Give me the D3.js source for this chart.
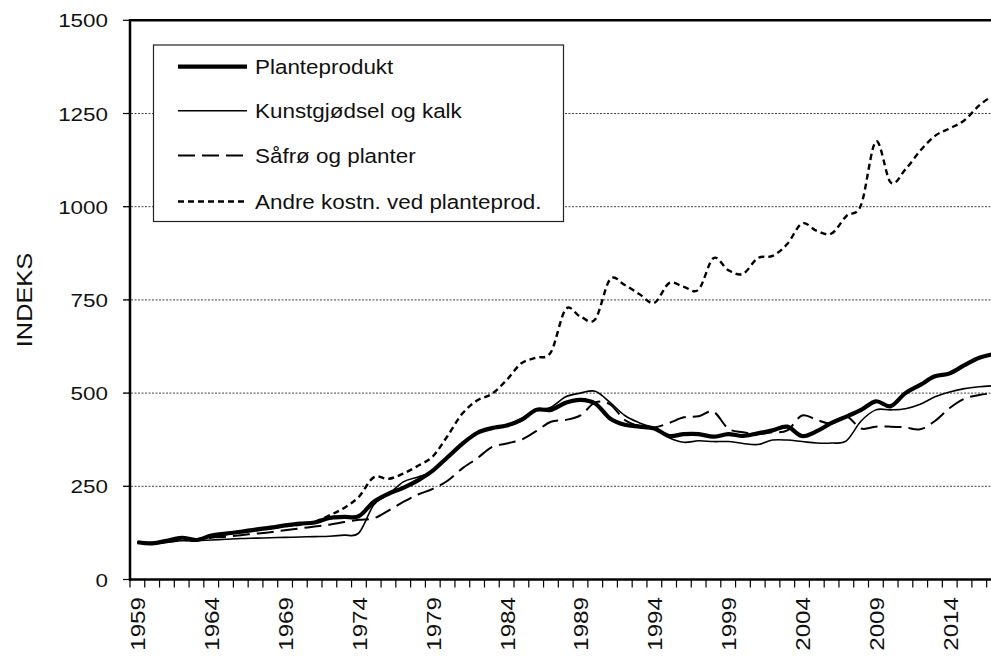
<!DOCTYPE html>
<html><head><meta charset="utf-8">
<script src="https://cdn.jsdelivr.net/npm/d3@7"></script>
<style>
body{margin:0;background:#fff}
text{font-family:"Liberation Sans",Arial,sans-serif;fill:#111}
</style>
</head><body><svg id="c" width="991" height="657"></svg>
<script>
const years = [1959,1960,1961,1962,1963,1964,1965,1966,1967,1968,1969,1970,1971,1972,1973,1974,1975,1976,1977,1978,1979,1980,1981,1982,1983,1984,1985,1986,1987,1988,1989,1990,1991,1992,1993,1994,1995,1996,1997,1998,1999,2000,2001,2002,2003,2004,2005,2006,2007,2008,2009,2010,2011,2012,2013,2014,2015,2016,2017];
const planteprodukt = [100,97,104,112,106,118,123,128,134,139,145,150,153,165,168,170,208,230,246,266,292,328,364,393,406,413,428,455,455,474,482,472,432,415,410,405,385,390,390,383,390,385,392,400,410,385,398,420,437,455,478,465,500,522,545,553,575,595,605];
const kunstgjodsel = [100,96,100,104,104,106,108,110,111,112,113,114,115,116,119,125,200,228,262,275,290,330,365,395,408,415,432,455,462,490,500,505,475,440,420,405,380,368,372,370,370,365,362,374,374,370,366,366,372,425,455,455,458,470,490,503,512,517,520];
const safro = [100,97,100,105,106,112,115,119,123,127,132,137,142,147,154,160,164,185,208,228,243,265,298,325,355,365,375,398,423,428,440,475,470,428,412,408,420,435,438,450,405,395,390,395,400,440,428,418,437,405,410,410,408,403,425,460,485,495,500];
const andre = [100,98,104,112,107,118,122,127,132,137,143,147,155,172,192,222,274,270,284,305,330,385,445,480,498,535,580,595,610,725,705,698,805,790,765,742,795,785,778,862,830,820,862,868,900,955,935,928,975,1005,1175,1065,1100,1150,1190,1210,1232,1272,1300];
const yTicks = [0,250,500,750,1000,1250,1500];
const xLabels = [1959,1964,1969,1974,1979,1984,1989,1994,1999,2004,2009,2014];
const seriesNames = ["Planteprodukt","Kunstgjødsel og kalk","Såfrø og planter","Andre kostn. ved planteprod."];

const svg = d3.select("#c");
const L = 130, T = 20.3, B = 579.5, step = 14.77;
const x = d3.scaleBand().domain(years).range([L, L + step*years.length]).paddingInner(0).paddingOuter(0);
const y = d3.scaleLinear().domain([0,1500]).range([B, T]);
const cx = d => x(d) + x.bandwidth()/2;
const SX = 1.18;

// gridlines
svg.append("g").selectAll("line").data(yTicks.filter(v => v>0 && v<1500)).join("line")
  .attr("x1", L-6).attr("x2", 991).attr("y1", d=>y(d)).attr("y2", d=>y(d))
  .attr("stroke","#444").attr("stroke-width",1).attr("stroke-dasharray","2,1.5");

// top border
svg.append("line").attr("x1",L).attr("x2",991).attr("y1",T).attr("y2",T).attr("stroke","#000").attr("stroke-width",2.5);

// lines
const line = d3.line().x((d,i)=>cx(years[i])).y(d=>y(d)).curve(d3.curveCardinal.tension(0));
const styles = [
  {data: andre, w: 2.4, dash: "6,4"},
  {data: safro, w: 2, dash: "17,7"},
  {data: kunstgjodsel, w: 1.6, dash: null},
  {data: planteprodukt, w: 4.2, dash: null}
];
styles.forEach(s => {
  svg.append("path").attr("d", line(s.data)).attr("fill","none").attr("stroke","#000")
    .attr("stroke-width", s.w).attr("stroke-dasharray", s.dash).attr("stroke-linejoin","round");
});

// y axis
const yAxis = svg.append("g");
yAxis.append("line").attr("x1",L).attr("x2",L).attr("y1",T-1.2).attr("y2",B+1.2).attr("stroke","#000").attr("stroke-width",2.5);
yAxis.selectAll("line.t").data(yTicks).join("line").attr("class","t")
  .attr("x1",L-7).attr("x2",L).attr("y1",d=>y(d)).attr("y2",d=>y(d)).attr("stroke","#000").attr("stroke-width",1.2);
yAxis.selectAll("text").data(yTicks).join("text")
  .attr("transform", d=>`translate(108,${y(d)}) scale(${SX},1)`)
  .attr("text-anchor","end").attr("dy","0.37em").style("font-size","19px").text(d=>d);

// x axis
const xAxis = svg.append("g");
xAxis.append("line").attr("x1",L-1).attr("x2",991).attr("y1",B).attr("y2",B).attr("stroke","#000").attr("stroke-width",2.5);
xAxis.selectAll("line.t").data(years).join("line").attr("class","t")
  .attr("x1",d=>x(d)).attr("x2",d=>x(d)).attr("y1",B).attr("y2",B+8).attr("stroke","#000").attr("stroke-width",1.2);
xAxis.selectAll("text").data(xLabels).join("text")
  .attr("transform", d=>`translate(${cx(d)+0.5},597) rotate(-90) scale(${SX},1)`)
  .attr("text-anchor","end").attr("dy","0.36em").style("font-size","20.5px").text(d=>d);

// y title
svg.append("text").attr("transform",`translate(24,300) rotate(-90) scale(${SX},1)`)
  .attr("text-anchor","middle").attr("dy","0.36em").style("font-size","21.5px").text("INDEKS");

// legend
const lg = svg.append("g");
lg.append("rect").attr("x",153.5).attr("y",45).attr("width",410).attr("height",176.5)
  .attr("fill","#fff").attr("stroke","#222").attr("stroke-width",1.2);
const rowY = [66.7,110.7,155.5,201.5];
const order = [3,2,1,0];
seriesNames.forEach((n,i)=>{
  const s = styles[order[i]];
  lg.append("line").attr("x1",178).attr("x2",247).attr("y1",rowY[i]).attr("y2",rowY[i])
    .attr("stroke","#000").attr("stroke-width",s.w).attr("stroke-dasharray",s.dash);
  lg.append("text").attr("transform",`translate(255,${rowY[i]}) scale(1.15,1)`)
    .attr("dy","0.37em").style("font-size","19.5px").text(n);
});
</script></body></html>
